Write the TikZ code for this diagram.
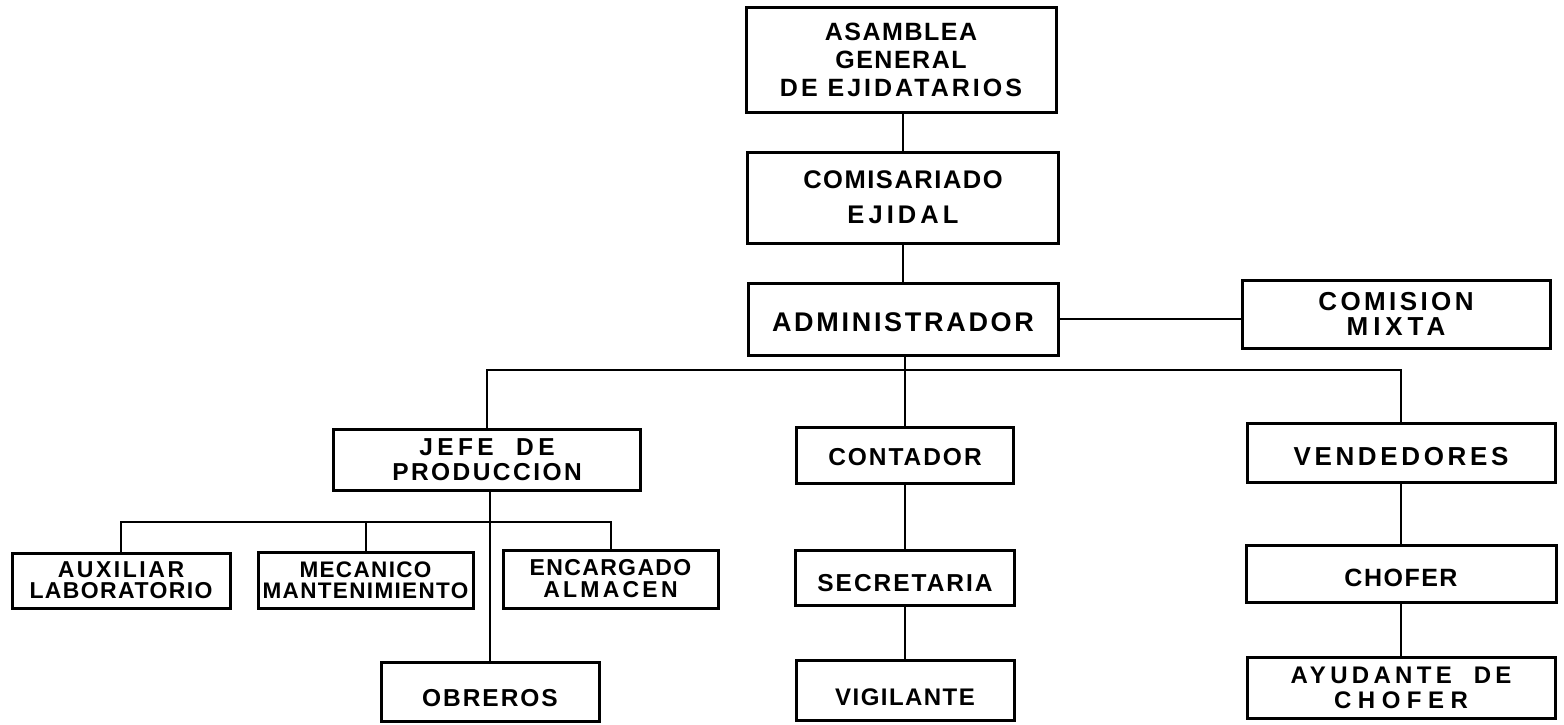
\documentclass[tikz,border=0pt]{standalone}
\usepackage{fontspec}
\newfontfamily\lett[LetterSpace=6]{Liberation Sans}
\newcommand\lsp[2]{{\addfontfeatures{LetterSpace=#1}#2}}
\begin{document}
\begin{tikzpicture}[x=1pt,y=-1pt,
  box/.style={draw, line width=3pt, inner sep=0pt, align=center,
    font=\lett\bfseries\fontsize{25}{27}\selectfont},
  fs/.style 2 args={font=\lett\bfseries\fontsize{#1}{#2}\selectfont},
  low/.style={text height=#1, text depth=0pt},
  link/.style={line width=2pt}]
\useasboundingbox[fill=white] (0,0) rectangle (1564,724);

% top column
\node[box, minimum width=310, minimum height=105, fs={25}{28}] (asam) at (901,60) {ASAMBLEA\\GENERAL\\\lsp{12}{DE EJIDATARIOS}};
\node[box, minimum width=311, minimum height=91, fs={25.5}{35}] (comi) at (903,197.5) {COMISARIADO\\\lsp{16}{EJIDAL}};
\node[box, minimum width=310, minimum height=72, fs={27}{29}, low=25pt] (admin) at (903,319) {\lsp{10}{ADMINISTRADOR}};
\node[box, minimum width=308, minimum height=68, fs={26}{25}] (mixta) at (1396,314) {\lsp{13}{COMISION}\\\lsp{19}{MIXTA}};

% second row
\node[box, minimum width=307, minimum height=61, fs={24.5}{25}] (jefe) at (487,459.5) {\lsp{18}{JEFE\ \ DE}\\\lsp{10}{PRODUCCION}};
\node[box, minimum width=217, minimum height=56, fs={24.5}{27}, low=21pt] (conta) at (905,455) {\lsp{8}{CONTADOR}};
\node[box, minimum width=308, minimum height=59, fs={26}{28}, low=25pt] (vend) at (1401,452.5) {\lsp{14}{VENDEDORES}};

% third row
\node[box, minimum width=218, minimum height=55, fs={23}{21}] (aux) at (121,580.5) {\lsp{11}{AUXILIAR}\\LABORATORIO};
\node[box, minimum width=215, minimum height=56, fs={22.5}{21}] (meca) at (365.5,580) {MECANICO\\MANTENIMIENTO};
\node[box, minimum width=215, minimum height=58, fs={23}{22}] (enca) at (610.5,579) {ENCARGADO\\\lsp{14}{ALMACEN}};
\node[box, minimum width=219, minimum height=55, fs={24.5}{27}, low=27pt] (secre) at (905,577.5) {\lsp{8}{SECRETARIA}};
\node[box, minimum width=310, minimum height=57, fs={25}{27}, low=26pt] (chofer) at (1401,573.5) {CHOFER};

% bottom row
\node[box, minimum width=218, minimum height=59, fs={24.5}{27}, low=29pt] (obre) at (490,691.5) {\lsp{8}{OBREROS}};
\node[box, minimum width=218, minimum height=60, fs={24}{27}, low=31pt] (vigi) at (905,690) {VIGILANTE};
\node[box, minimum width=308, minimum height=61, fs={24}{25}] (ayud) at (1401,687.5) {\lsp{18}{AYUDANTE\ \ DE}\\\lsp{27}{CHOFER}};

% bus coordinates
\coordinate (bus) at (905,370);
\coordinate (sub) at (365.5,522);

% connectors
\draw[link] (asam.south -| comi) -- (comi);
\draw[link] (comi) -- (comi |- admin.north);
\draw[link] (admin) -- (admin -| mixta.west);
\draw[link] (conta |- admin.south) -- (conta);
\draw[link] (jefe) |- (bus) -| (vend);
\draw[link] (conta) -- (secre);
\draw[link] (secre) -- (vigi);
\draw[link] (vend) -- (chofer);
\draw[link] (chofer) -- (ayud);
\draw[link] (aux) |- (sub) -| (enca);
\draw[link] (meca) -- (meca |- sub);
\draw[link] (obre.north |- jefe.south) -- (obre);
\end{tikzpicture}
\end{document}
